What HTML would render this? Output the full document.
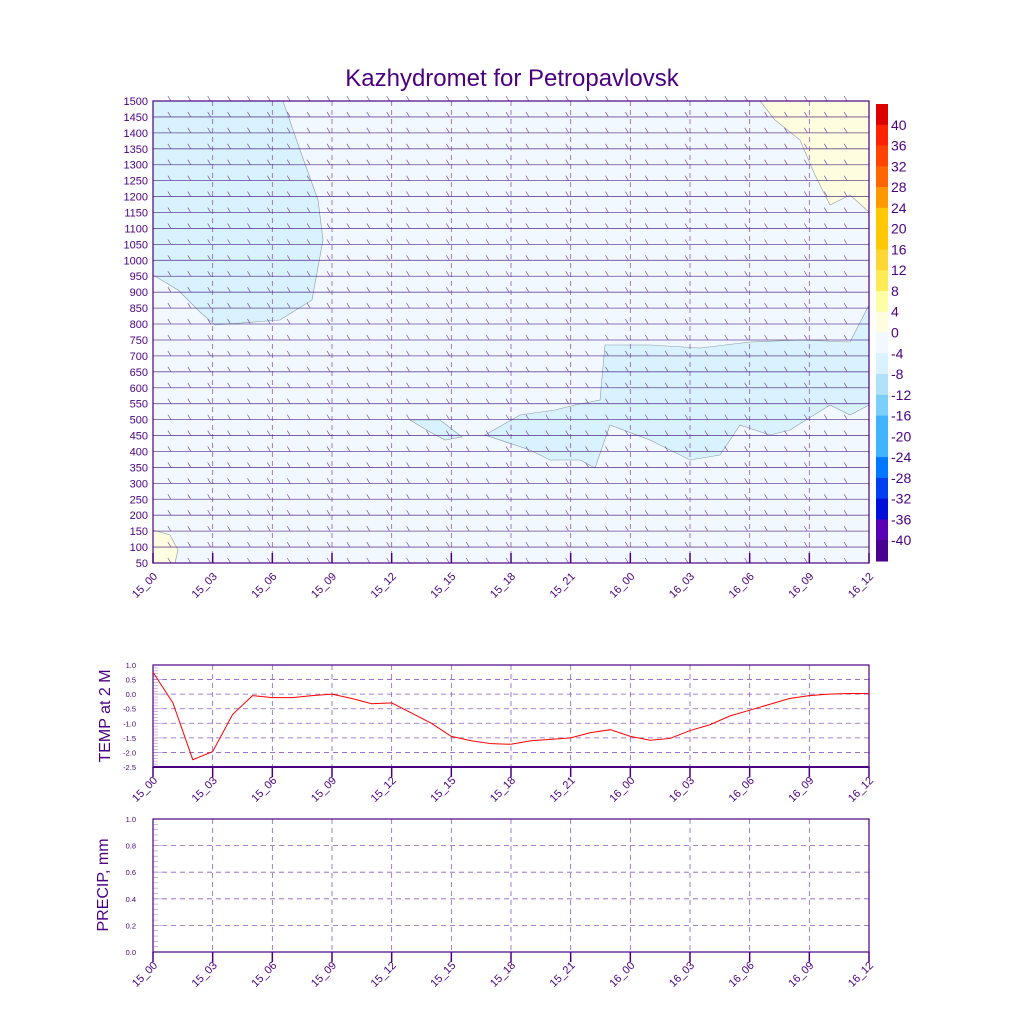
<!DOCTYPE html>
<html><head><meta charset="utf-8"><style>
body{margin:0;background:#fff;}
svg{display:block;font-family:"Liberation Sans",sans-serif;}
</style></head><body>
<svg id="c" width="1024" height="1024" viewBox="0 0 1024 1024" xmlns="http://www.w3.org/2000/svg">
<text x="512" y="86" text-anchor="middle" font-size="24" fill="#4b0082">Kazhydromet for Petropavlovsk</text>
<g id="main"></g>
<g id="cbar"></g>
<g id="temp"></g>
<g id="prec"></g>
</svg>
<script>
const xTickLabels=["15_00","15_03","15_06","15_09","15_12","15_15","15_18","15_21","16_00","16_03","16_06","16_09","16_12"];
const levels=[50,100,150,200,250,300,350,400,450,500,550,600,650,700,750,800,850,900,950,1000,1050,1100,1150,1200,1250,1300,1350,1400,1450,1500];
const cbarLabels=[40,36,32,28,24,20,16,12,8,4,0,-4,-8,-12,-16,-20,-24,-28,-32,-36,-40];
const cbarColors=["#dd0000","#ff2200","#ff4400","#ff6600","#ff9900","#ffc800","#ffc800","#ffd633","#ffeb55","#ffffa8","#fffde0","#f2f8ff","#d8f2ff","#b0e2fa","#7ccffa","#40b4ff","#40b4ff","#0078ff","#0040f0","#0010d8","#5a00b4","#4a0090"];
const tempHours=[0,1,2,3,4,5,6,7,8,9,10,11,12,13,14,15,16,17,18,19,20,21,22,23,24,25,26,27,28,29,30,31,32,33,34,35,36];
const tempValues=[0.75,-0.3,-2.25,-1.97,-0.7,-0.05,-0.12,-0.12,-0.05,0.0,-0.15,-0.33,-0.3,-0.65,-1.0,-1.45,-1.6,-1.7,-1.72,-1.6,-1.55,-1.5,-1.32,-1.22,-1.45,-1.58,-1.52,-1.25,-1.05,-0.75,-0.55,-0.35,-0.15,-0.05,0.0,0.02,0.02];
const tempTicks=[1.0,0.5,0.0,-0.5,-1.0,-1.5,-2.0,-2.5];
const precTicks=[0.0,0.2,0.4,0.6,0.8,1.0];
const precValues=[];
const NS="http://www.w3.org/2000/svg";
const P="#4b0082";
function el(t,a,p){const e=document.createElementNS(NS,t);for(const k in a)e.setAttribute(k,a[k]);p.appendChild(e);return e;}
const X0=153,X1=869;
const xs=h=>X0+(X1-X0)*h/36;
function xAxisLabels(g,yb){
  xTickLabels.forEach((l,i)=>{const x=xs(i*3)+5,y=yb+14;
    const t=el("text",{x:x,y:y,"text-anchor":"end","font-size":"11",fill:P,transform:`rotate(-45 ${x} ${y})`},g);t.textContent=l;
    
    
  });
}
// main panel
const m=document.getElementById("main");
const Y0=101,Y1=563;
const ly=v=>Y1-(Y1-Y0)*(v-50)/1450;
el("rect",{x:X0,y:Y0,width:X1-X0,height:Y1-Y0,fill:"#f2f8ff"},m);
const polys=[
 ["#d8f2ff","153,101 283,101 300,150 318,200 323,240 312,300 280,320 215,325 200,312 178,290 153,275"],
 ["#d8f2ff","410,420 440,420 462,437 445,440 430,432"],
 ["#d8f2ff","485,435 520,415 555,410 575,405 600,400 605,345 650,345 700,348 750,342 800,340 850,342 869,305 869,405 850,415 830,405 790,430 770,435 740,425 720,455 690,460 650,440 610,425 595,468 580,460 550,460 530,450"],
 ["#fffde0","760,101 869,101 869,212 850,195 830,205 815,175 800,140 775,120"],
 ["#fffde0","153,530 170,535 178,550 175,563 153,563"]];
polys.forEach(p=>{const e=el("polygon",{points:p[1],fill:p[0],stroke:"#8a9aa0","stroke-width":"0.6"},m);
  
  });
for(let i=1;i<12;i++){el("line",{x1:xs(i*3),x2:xs(i*3),y1:Y0,y2:Y1,stroke:"#8a5cc0","stroke-dasharray":"5,4","stroke-width":"0.8"},m);}
levels.forEach(v=>{const y=ly(v);
  const ln=el("line",{x1:X0,x2:X1,y1:y,y2:y,stroke:"#3c1070","stroke-width":"0.8",opacity:"0.75"},m);
  
  
  for(let h=1;h<36;h++){const x=xs(h);
    el("path",{d:`M${x-2} ${y} l-3 -5`,stroke:"#7a50b0","stroke-width":"0.7",fill:"none"},m);}
  const t=el("text",{x:X0-5,y:y+4,"text-anchor":"end","font-size":"11",fill:P},m);t.textContent=v;
  
  
});
for(let i=0;i<13;i++)el("line",{x1:xs(i*3),x2:xs(i*3),y1:Y1,y2:Y1-10,stroke:P,"stroke-width":"1.5"},m);
el("rect",{x:X0,y:Y0,width:X1-X0,height:Y1-Y0,fill:"none",stroke:P,"stroke-width":"1.2"},m);
xAxisLabels(m,Y1);
// colorbar
const cb=document.getElementById("cbar");
const CY0=104,CY1=561,bh=(CY1-CY0)/22;
cbarColors.forEach((c,i)=>{const r=el("rect",{x:876,y:CY0+i*bh,width:12,height:bh+0.5,fill:c},cb);
  
  });
cbarLabels.forEach((l,i)=>{const t=el("text",{x:891,y:CY0+(i+1)*bh+5,"font-size":"14",fill:P},cb);t.textContent=l;
  
  });
// temp panel
const tg=document.getElementById("temp");
const TY0=665,TY1=767;
const ty=v=>TY0+(TY1-TY0)*(1.0-v)/3.5;
tempTicks.forEach(v=>{const y=ty(v);
  if(v<1&&v>-2.5)el("line",{x1:X0,x2:X1,y1:y,y2:y,stroke:"#8a5cc0","stroke-dasharray":"5,4","stroke-width":"0.8"},tg);
  const t=el("text",{x:X0-17,y:y+3,"text-anchor":"end","font-size":"7.5",fill:P},tg);t.textContent=v.toFixed(1);
  
  });
for(let v=1;v>=-2.5;v-=0.1){el("line",{x1:X0,x2:X0+(Math.abs(v*2-Math.round(v*2))<0.01?10:5),y1:ty(v),y2:ty(v),stroke:"#b89ad8","stroke-width":"0.7"},tg);}
for(let i=1;i<12;i++)el("line",{x1:xs(i*3),x2:xs(i*3),y1:TY0,y2:TY1,stroke:"#8a5cc0","stroke-dasharray":"5,4","stroke-width":"0.8"},tg);
el("rect",{x:X0,y:TY0,width:X1-X0,height:TY1-TY0,fill:"none",stroke:P,"stroke-width":"1.2"},tg);
el("line",{x1:X0,x2:X1,y1:TY1,y2:TY1,stroke:P,"stroke-width":"2"},tg);
const tl=el("polyline",{points:tempHours.map((h,i)=>`${xs(h)},${ty(tempValues[i])}`).join(" "),fill:"none",stroke:"#ff0000","stroke-width":"1"},tg);


for(let i=0;i<13;i++)el("line",{x1:xs(i*3),x2:xs(i*3),y1:TY1,y2:TY1+10,stroke:P,"stroke-width":"1.5"},tg);
const tt=el("text",{x:110,y:716,"text-anchor":"middle","font-size":"16",fill:P,transform:"rotate(-90 110 716)"},tg);tt.textContent="TEMP at 2 M";


xAxisLabels(tg,TY1);
// precip panel
const pg=document.getElementById("prec");
const PY0=819,PY1=952;
const py=v=>PY1-(PY1-PY0)*v;
precTicks.forEach(v=>{const y=py(v);
  if(v>0&&v<1)el("line",{x1:X0,x2:X1,y1:y,y2:y,stroke:"#8a5cc0","stroke-dasharray":"5,4","stroke-width":"0.8"},pg);
  const t=el("text",{x:X0-17,y:y+3,"text-anchor":"end","font-size":"7.5",fill:P},pg);t.textContent=v.toFixed(1);
  
  });
for(let v=0;v<=1.001;v+=0.04){el("line",{x1:X0,x2:X0+(Math.abs(v*5-Math.round(v*5))<0.01?10:5),y1:py(v),y2:py(v),stroke:"#b89ad8","stroke-width":"0.7"},pg);}
for(let i=1;i<12;i++)el("line",{x1:xs(i*3),x2:xs(i*3),y1:PY0,y2:PY1,stroke:"#8a5cc0","stroke-dasharray":"5,4","stroke-width":"0.8"},pg);
el("rect",{x:X0,y:PY0,width:X1-X0,height:PY1-PY0,fill:"none",stroke:P,"stroke-width":"1.2"},pg);
for(let i=0;i<13;i++)el("line",{x1:xs(i*3),x2:xs(i*3),y1:PY1,y2:PY1+10,stroke:P,"stroke-width":"1.5"},pg);
const pt=el("text",{x:108,y:885,"text-anchor":"middle","font-size":"16",fill:P,transform:"rotate(-90 108 885)"},pg);pt.textContent="PRECIP, mm";


xAxisLabels(pg,PY1);
</script>
</body></html>
